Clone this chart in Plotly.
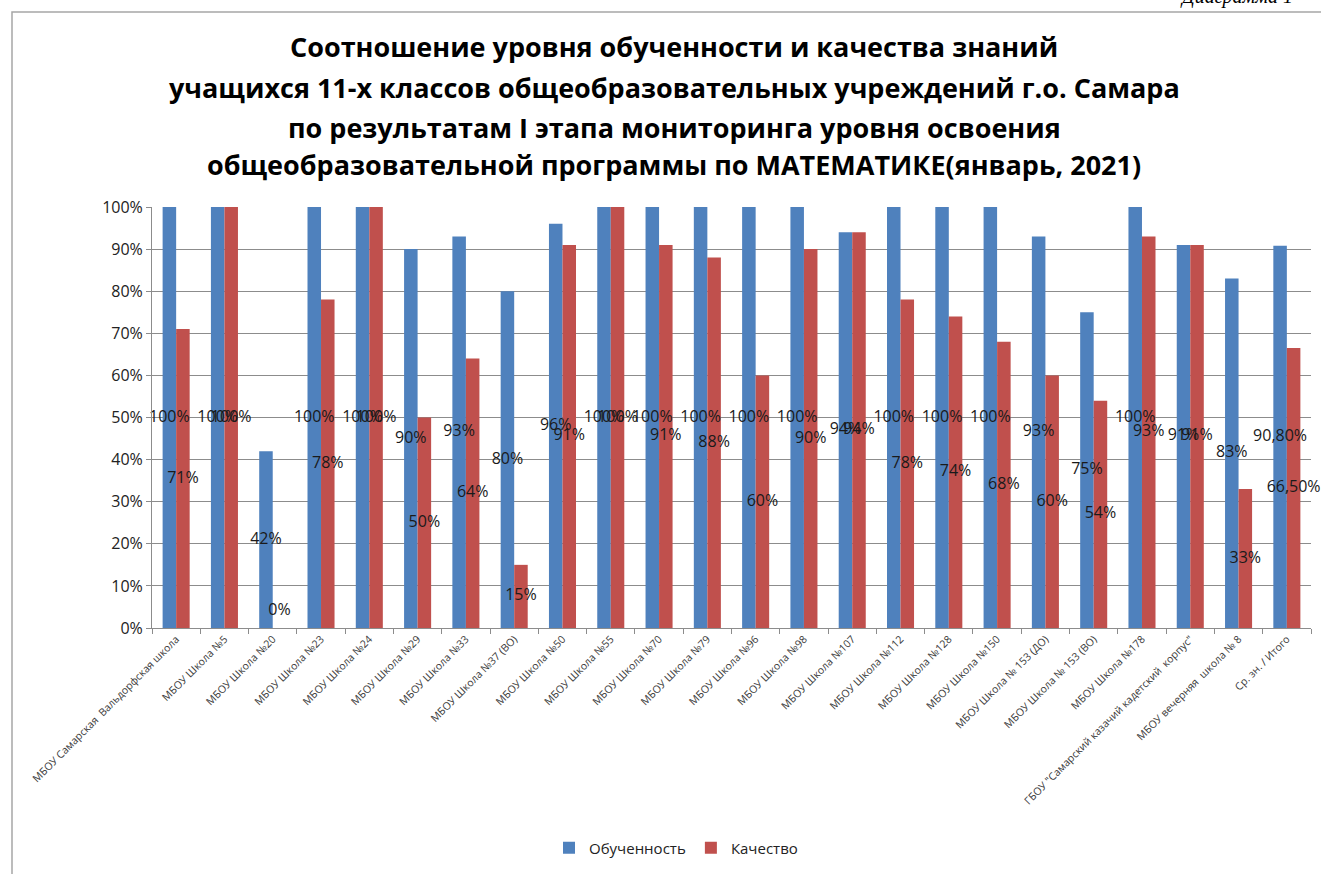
import plotly.graph_objects as go

categories = [
    "МБОУ Самарская  Вальдорфская школа",
    "МБОУ Школа №5",
    "МБОУ Школа №20",
    "МБОУ Школа №23",
    "МБОУ Школа №24",
    "МБОУ Школа №29",
    "МБОУ Школа №33",
    "МБОУ Школа №37 (ВО)",
    "МБОУ Школа №50",
    "МБОУ Школа №55",
    "МБОУ Школа №70",
    "МБОУ Школа №79",
    "МБОУ Школа №96",
    "МБОУ Школа №98",
    "МБОУ Школа №107",
    "МБОУ Школа №112",
    "МБОУ Школа №128",
    "МБОУ Школа №150",
    "МБОУ Школа № 153 (ДО)",
    "МБОУ Школа № 153 (ВО)",
    "МБОУ Школа №178",
    "ГБОУ \"Самарский казачий кадетский  корпус\"",
    "МБОУ вечерняя  школа № 8",
    "Ср. зн. / Итого",
]

obuchennost = [100, 100, 42, 100, 100, 90, 93, 80, 96, 100, 100, 100, 100, 100,
               94, 100, 100, 100, 93, 75, 100, 91, 83, 90.8]
kachestvo = [71, 100, 0, 78, 100, 50, 64, 15, 91, 100, 91, 88, 60, 90,
             94, 78, 74, 68, 60, 54, 93, 91, 33, 66.5]

obuch_labels = ["100%", "100%", "42%", "100%", "100%", "90%", "93%", "80%", "96%",
                "100%", "100%", "100%", "100%", "100%", "94%", "100%", "100%",
                "100%", "93%", "75%", "100%", "91%", "83%", "90,80%"]
kach_labels = ["71%", "100%", "0%", "78%", "100%", "50%", "64%", "15%", "91%",
               "100%", "91%", "88%", "60%", "90%", "94%", "78%", "74%", "68%",
               "60%", "54%", "93%", "91%", "33%", "66,50%"]

BLUE = "#4F81BD"
RED = "#C0504D"
GRID = "#8C8C8C"
FONT = "Open Sans"

W, H = 1321, 874
L, R, T, B = 152, 10, 207, 246
PW = W - L - R
PH = H - T - B


def px_x(p):
    return (p - L) / PW


def px_y(p):
    return (H - B - p) / PH


BARGAP = 0.44
half = (1 - BARGAP) / 4  # center offset of each bar in a group

fig = go.Figure()
fig.add_trace(go.Bar(x=categories, y=obuchennost, name="Обученность",
                     marker=dict(color=BLUE, line=dict(width=0)), hoverinfo="skip"))
fig.add_trace(go.Bar(x=categories, y=kachestvo, name="Качество",
                     marker=dict(color=RED, line=dict(width=0)), hoverinfo="skip"))

idx = list(range(len(categories)))
LABEL_FONT = dict(size=16, color="#1a1a1a", family=FONT)
fig.add_trace(go.Scatter(
    x=[i - half for i in idx], y=[max(v / 2, 4) for v in obuchennost],
    text=obuch_labels, mode="text", xaxis="x2", showlegend=False,
    textfont=LABEL_FONT, cliponaxis=False, hoverinfo="skip"))
fig.add_trace(go.Scatter(
    x=[i + half for i in idx], y=[max(v / 2, 4) for v in kachestvo],
    text=kach_labels, mode="text", xaxis="x2", showlegend=False,
    textfont=LABEL_FONT, cliponaxis=False, hoverinfo="skip"))

title_lines = [
    "Соотношение уровня обученности и качества знаний",
    "учащихся 11-х классов общеобразовательных учреждений г.о. Самара",
    "по результатам I этапа мониторинга уровня освоения",
    "общеобразовательной программы по МАТЕМАТИКЕ(январь, 2021)",
]
title_y_px = [46, 88, 127, 164]
annotations = []
for line, ypx in zip(title_lines, title_y_px):
    annotations.append(dict(
        text="<b>" + line + "</b>", x=px_x(674), y=px_y(ypx), xref="paper", yref="paper",
        xanchor="center", yanchor="middle", showarrow=False,
        font=dict(size=27, color="#000000", family=FONT)))
annotations.append(dict(
    text="Диаграмма 1", x=px_x(1178), y=px_y(-3), xref="paper", yref="paper",
    xanchor="left", yanchor="middle", showarrow=False,
    font=dict(size=20, color="#000000", family="Liberation Serif", style="italic")))

fig.update_layout(
    width=W, height=H,
    margin=dict(l=L, r=R, t=T, b=B, autoexpand=False),
    paper_bgcolor="white", plot_bgcolor="white",
    barmode="group", bargap=BARGAP, bargroupgap=0,
    font=dict(family=FONT, color="#222222"),
    showlegend=True,
    legend=dict(orientation="h", x=px_x(676), y=px_y(848), xanchor="center",
                yanchor="middle", font=dict(size=15, color="#222222", family=FONT),
                itemwidth=30, traceorder="normal"),
    xaxis=dict(type="category", tickson="boundaries", ticks="outside", ticklen=5,
               tickcolor=GRID, showline=True, linecolor=GRID, linewidth=1,
               tickangle=-45, tickfont=dict(size=10.5, color="#3a3a3a", family=FONT),
               showgrid=False, range=[-0.5, len(categories) - 0.5]),
    xaxis2=dict(overlaying="x", range=[-0.5, len(categories) - 0.5], visible=False),
    yaxis=dict(range=[0, 100], dtick=10, ticksuffix="%", showgrid=True,
               gridcolor=GRID, gridwidth=1, showline=True, linecolor=GRID,
               ticks="outside", ticklen=5, tickcolor=GRID, zeroline=False,
               tickfont=dict(size=16, color="#222222", family=FONT)),
    annotations=annotations,
    shapes=[dict(type="rect", xref="paper", yref="paper",
                 x0=px_x(12), x1=px_x(1330), y0=px_y(890), y1=px_y(12),
                 line=dict(color="#A6A6A6", width=1.5), layer="below")],
)

fig.write_html(
    "out.html",
    config={"displayModeBar": False, "staticPlot": True},
    post_script="document.body.style.margin='0px';document.body.style.overflow='hidden';",
)
